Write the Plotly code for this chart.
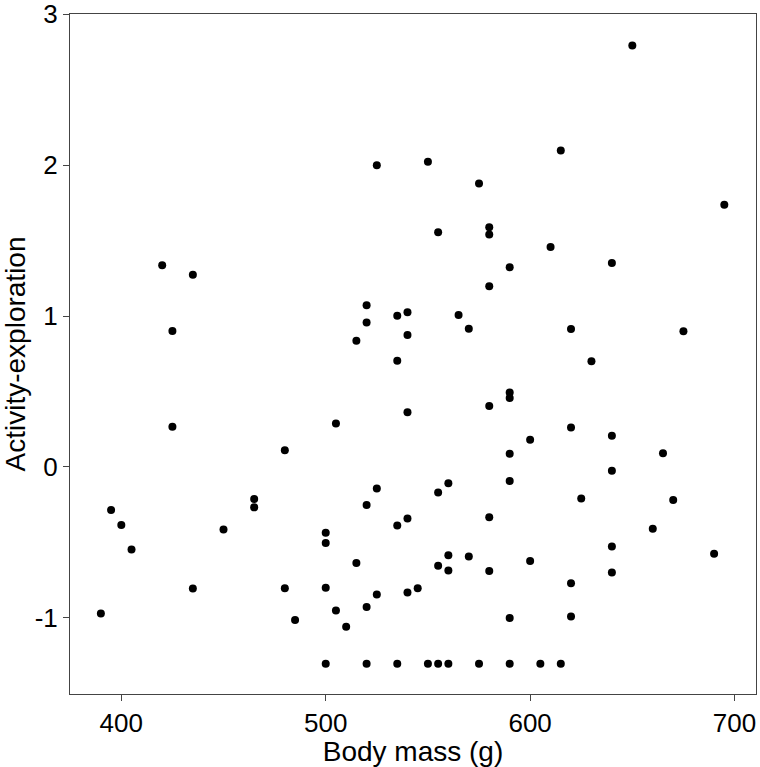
import plotly.graph_objects as go

body_mass = [
    420, 435, 425, 525, 520, 520, 515, 650, 615, 550, 575, 695, 555, 580, 580,
    610, 640, 590, 580, 535, 540, 565, 540, 570, 620, 675, 535, 630,
    425, 505, 480, 525, 465, 465, 520, 395, 400, 450, 500, 500, 405, 515,
    435, 480, 500, 525, 505, 520, 390, 485, 510, 500, 520,
    590, 590, 580, 540, 620, 640, 600, 590, 665, 640, 590, 560, 555, 625,
    670, 580, 535, 540, 660, 640, 690, 560, 570, 600, 555, 560, 580, 640,
    620, 545, 540, 590, 620,
    535, 550, 555, 560, 575, 590, 605, 615,
]
activity = [
    1.336, 1.274, 0.901, 2.000, 1.072, 0.958, 0.837, 2.793, 2.098, 2.022, 1.879,
    1.738, 1.556, 1.589, 1.540, 1.457, 1.351, 1.323, 1.198, 1.002, 1.026, 1.007,
    0.875, 0.916, 0.914, 0.899, 0.703, 0.701,
    0.266, 0.288, 0.110, -0.143, -0.213, -0.268, -0.253, -0.286, -0.385, -0.415,
    -0.437, -0.505, -0.547, -0.637, -0.806, -0.804, -0.800, -0.846, -0.951,
    -0.929, -0.971, -1.015, -1.059, -1.305, -1.305,
    0.494, 0.457, 0.404, 0.363, 0.262, 0.206, 0.180, 0.088, 0.090, -0.026,
    -0.094, -0.108, -0.169, -0.209, -0.220, -0.334, -0.389, -0.341, -0.409,
    -0.527, -0.576, -0.585, -0.593, -0.624, -0.655, -0.686, -0.690, -0.699,
    -0.771, -0.804, -0.833, -1.002, -0.991,
    -1.305, -1.305, -1.305, -1.305, -1.305, -1.305, -1.305, -1.305,
]

x_ticks = [400, 500, 600, 700]
y_ticks = [-1, 0, 1, 2, 3]

FONT = "Liberation Sans, Arial, Helvetica, sans-serif"
LINE = "#444444"

fig = go.Figure(
    go.Scatter(
        x=body_mass, y=activity, mode="markers",
        marker=dict(size=8, color="black"),
        hoverinfo="x+y", cliponaxis=False,
    )
)

fig.update_layout(
    width=760, height=767,
    margin=dict(l=70, r=4, t=14, b=73, autoexpand=False),
    paper_bgcolor="white", plot_bgcolor="white",
    showlegend=False,
    font=dict(family=FONT, color="black", size=26),
)

fig.update_xaxes(
    range=[374.9, 710.5], automargin=False,
    tickvals=x_ticks, ticktext=[str(v) for v in x_ticks],
    ticks="outside", ticklen=6, tickwidth=1, tickcolor=LINE,
    showline=True, linecolor=LINE, linewidth=1, mirror=True,
    showgrid=False, zeroline=False, ticklabeloverflow="allow",
    tickfont=dict(size=26),
    title=dict(text="Body mass (g)", font=dict(size=28), standoff=2),
)
fig.update_yaxes(
    range=[-1.505, 3.002], automargin=False,
    tickvals=y_ticks, ticktext=[str(v) for v in y_ticks],
    ticks="outside", ticklen=6, tickwidth=1, tickcolor=LINE,
    showline=True, linecolor=LINE, linewidth=1, mirror=True,
    showgrid=False, zeroline=False, ticklabeloverflow="allow",
    tickfont=dict(size=26),
    title=dict(text="Activity-exploration", font=dict(size=28), standoff=4),
)

fig.write_html(
    "out.html",
    config={"displayModeBar": False},
    post_script="document.body.style.margin='0';document.body.style.overflow='hidden';",
)
